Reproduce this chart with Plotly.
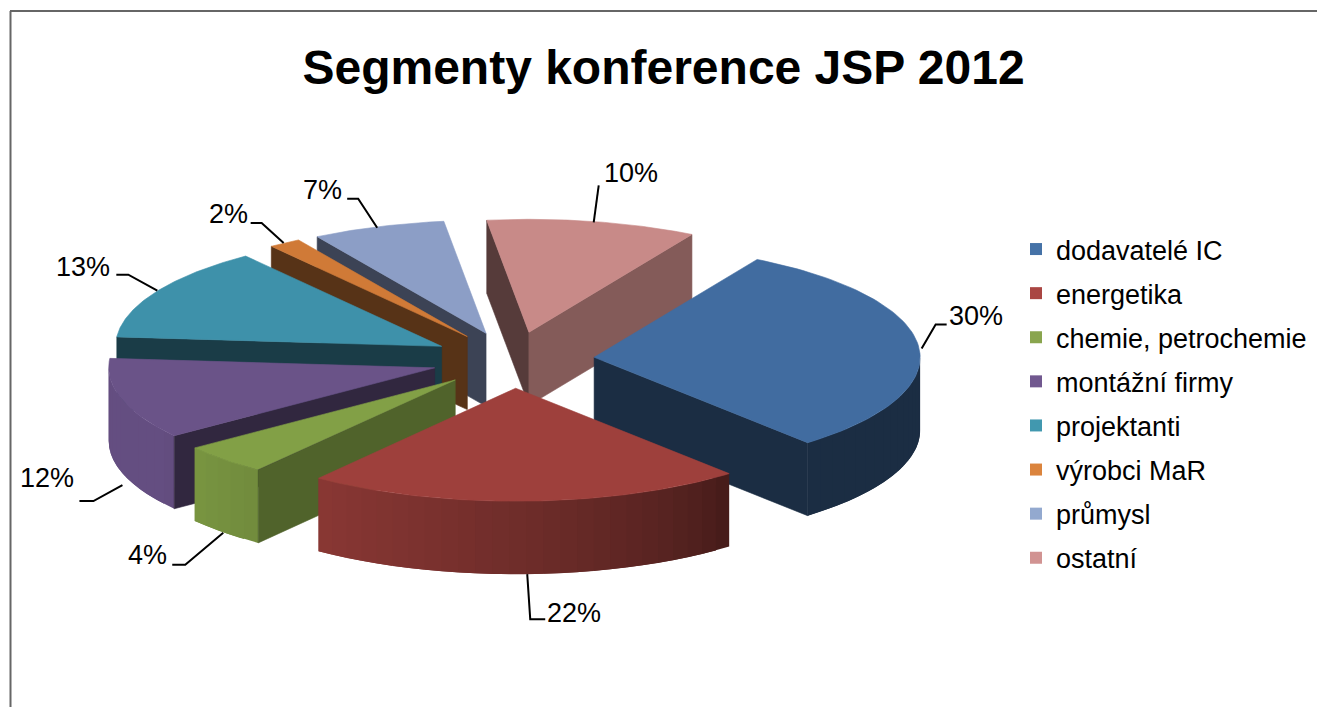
import numpy as np
import plotly.graph_objects as go

# ---- data ----
categories = ["dodavatelé IC", "energetika", "chemie, petrochemie", "montážní firmy",
              "projektanti", "výrobci MaR", "průmysl", "ostatní"]
values = [30.3, 21.7, 4.4, 11.6, 13.4, 1.6, 6.6, 10.4]
title_text = "Segmenty konference JSP 2012"

# ---- style / layout ----
top_colors = [(65, 108, 160), (158, 64, 60), (130, 160, 70), (106, 83, 136),
              (62, 145, 170), (208, 122, 55), (140, 158, 198), (200, 138, 136)]
legend_colors = ["#4572A7", "#AA4643", "#89A54E", "#71588F", "#4198AF", "#DB843D", "#93A9CF", "#D19392"]
start_wall_shade = [0.42, 0.42, 0.62, 0.47, 0.42, 0.42, 0.43, 0.43]
end_wall_shade = [0.42, 0.42, 0.62, 0.47, 0.42, 0.42, 0.43, 0.66]
FIRST_ANGLE = 30.0
EXPLODE = 0.25
CX, CY, RX, RY, DEPTH = 513.0, 360.0, 326.0, 113.0, 73.0
W, H = 1317, 707

# leader: start tweak relative to rim point, elbow and end relative to the start (pixels)
leader_shift = [(3, 2), (1, 0), (-1, 0), (1, 13), (1, -1), (-1, 0), (-1, 1), (1, 1)]
leader_elbow = [(14, -24), (3, 45), (-38, 32), (-29, 16), (-29, -16), (-22, -20), (-19, -29), (5, -37)]
leader_tail = [11, 15, -13, -14, -12, -11, -11, 0]
label_gap = [(0, -9), (0, -6), (-3, -10), (-3, -23), (-4, -8), (-1, -9), (-3, -9), (3, -12)]
label_anchor = ["left", "left", "right", "right", "right", "right", "right", "left"]


def shade(rgb, f):
    return "rgb(%d,%d,%d)" % tuple(int(c * f) for c in rgb)


def point(tip, deg, r=1.0):
    t = np.radians(deg)
    return tip[0] + r * RX * np.sin(t), tip[1] - r * RY * np.cos(t)


def rim_shade(deg):
    span = max(deg - 139.0, 0.0) / 78.0
    return float(np.clip(0.42 + 0.45 * span ** 0.7, 0.42, 0.95))


fig = go.Figure()


def poly(xs, ys, color, edge=0.6):
    fig.add_trace(go.Scatter(x=list(xs) + [xs[0]], y=list(ys) + [ys[0]], mode="lines", fill="toself",
                             fillcolor=color, line=dict(color=color, width=edge),
                             hoverinfo="skip", showlegend=False))


total = float(sum(values))
edges = FIRST_ANGLE + np.concatenate([[0], np.cumsum(values)]) / total * 360.0
slices = []
for i in range(len(values)):
    a0, a1 = edges[i], edges[i + 1]
    mid = (a0 + a1) / 2
    tip = point((CX, CY), mid, EXPLODE)
    slices.append((tip[1], i, a0, a1, mid, tip))

for _, i, a0, a1, mid, tip in sorted(slices, key=lambda s: s[0]):
    col = top_colors[i]
    # outer rim: each strip reaches to the far end of its neighbour, which then paints over it
    lo, hi = max(a0, 90.0), min(a1, 270.0)
    if lo < hi:
        cuts = np.linspace(lo, hi, max(2, int((hi - lo) / 3) + 1))
        for k in range(len(cuts) - 1):
            u, v = cuts[k], cuts[min(k + 2, len(cuts) - 1)]
            arc = np.linspace(u, v, 6)
            px, py = point(tip, arc)
            poly(list(px) + list(px[::-1]), list(py) + list(py[::-1] + DEPTH),
                 shade(col, rim_shade((cuts[k] + cuts[k + 1]) / 2)), edge=0)
    # radial walls facing the viewer
    if np.sin(np.radians(a0)) < 0:
        p = point(tip, a0)
        poly([tip[0], p[0], p[0], tip[0]], [tip[1], p[1], p[1] + DEPTH, tip[1] + DEPTH],
             shade(col, start_wall_shade[i]))
    if np.sin(np.radians(a1)) > 0:
        p = point(tip, a1)
        poly([tip[0], p[0], p[0], tip[0]], [tip[1], p[1], p[1] + DEPTH, tip[1] + DEPTH],
             shade(col, end_wall_shade[i]))
    # top face
    arc = np.linspace(a0, a1, 80)
    px, py = point(tip, arc)
    poly([tip[0]] + list(px), [tip[1]] + list(py), shade(col, 1.0))

annotations = []
for _, i, a0, a1, mid, tip in slices:
    p = point(tip, mid)
    front = 90.0 < (mid % 360) < 270.0
    sx = p[0] + leader_shift[i][0]
    sy = p[1] + (DEPTH if front else 0) + leader_shift[i][1]
    ex, ey = sx + leader_elbow[i][0], sy + leader_elbow[i][1]
    fx = ex + leader_tail[i]
    fig.add_trace(go.Scatter(x=[sx, ex, fx], y=[sy, ey, ey], mode="lines",
                             line=dict(color="black", width=2), hoverinfo="skip", showlegend=False))
    annotations.append(dict(x=fx + label_gap[i][0], y=ey + label_gap[i][1], xref="x", yref="y",
                            text=f"{values[i]:.0f}%", showarrow=False, xanchor=label_anchor[i],
                            yanchor="middle", font=dict(family="Liberation Sans", size=27, color="black")))

for name, col in zip(categories, legend_colors):
    fig.add_trace(go.Scatter(x=[None], y=[None], mode="markers", name=name, legendgroup=name,
                             marker=dict(symbol="square", size=12, color=col)))

border = dict(color="#666666", width=2)
fig.update_layout(
    width=W, height=H, margin=dict(l=0, r=0, t=0, b=0),
    paper_bgcolor="white", plot_bgcolor="white",
    title=dict(text=f"<b>{title_text}</b>", x=663.5 / W, y=1 - 67 / H, xanchor="center", yanchor="middle",
               font=dict(family="Liberation Sans", size=48, color="black")),
    xaxis=dict(range=[0, W], visible=False, fixedrange=True),
    yaxis=dict(range=[H, 0], visible=False, fixedrange=True),
    legend=dict(x=1016 / W, y=1 - 225 / H, xanchor="left", yanchor="top", tracegroupgap=6,
                bgcolor="rgba(0,0,0,0)", font=dict(family="Liberation Sans", size=27, color="black")),
    annotations=annotations,
    shapes=[
        dict(type="line", xref="paper", yref="paper", x0=10.5 / W, x1=10.5 / W, y0=0, y1=1 - 11 / H, line=border),
        dict(type="line", xref="paper", yref="paper", x0=10 / W, x1=1, y0=1 - 11 / H, y1=1 - 11 / H, line=border),
    ],
)

fig.write_html("out.html", config={"displayModeBar": False},
               post_script="document.body.style.margin='0';document.body.style.overflow='hidden';")
